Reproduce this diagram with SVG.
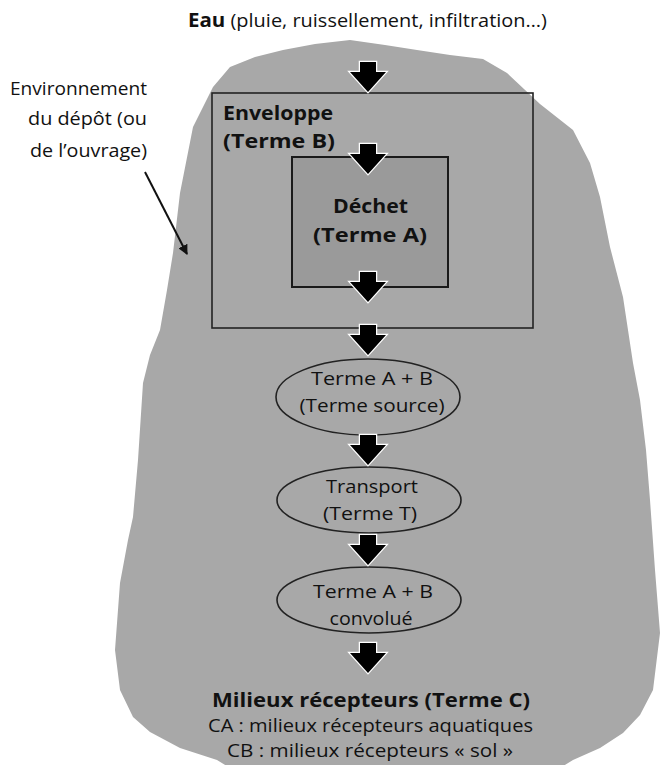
<svg xmlns="http://www.w3.org/2000/svg" width="670" height="765" viewBox="0 0 670 765">
<style>
text{font-family:"Open Sans",Lato,"Liberation Sans",sans-serif;font-size:19px;fill:#111}
.b{font-weight:bold;font-size:19.5px}
.c{text-anchor:middle}
.r{text-anchor:end}
.flow{fill:#000;stroke:#fff;stroke-width:2.5;paint-order:stroke;stroke-linejoin:miter}
.node{fill:none;stroke:#222;stroke-width:1.6}
</style>
<defs>
<path id="arr" d="M-8,0 H8 V10 H18 L0,30 L-18,10 H-8 Z"/>
<marker id="ah" viewBox="0 0 10 10" refX="9" refY="5" markerWidth="5" markerHeight="5" orient="auto" markerUnits="strokeWidth"><path d="M0,0 L10,5 L0,10 Z" fill="#111"/></marker>
</defs>
<rect width="670" height="765" fill="#fff"/>
<g id="environnement">
<path d="M230,67 L255,57 L283,50 L315,44 L350,40 L385,45 L417,50 L450,55 L483,59 L507,73 L540,104 L573,130 L590,163 L600,197 L610,247 L623,297 L633,363 L640,400 L646,450 L650,500 L655,570 L660,633 L653,690 L640,715 L623,733 L600,748 L573,760 L560,768 L230,768 L217,760 L180,748 L150,732 L133,717 L120,690 L115,650 L120,583 L128,540 L133,517 L138,460 L143,383 L150,355 L160,330 L167,290 L173,253 L180,193 L193,127 L213,87 Z" fill="#a8a8a8"/>
</g>
<g id="enveloppe">
<rect x="212" y="93" width="321" height="235" class="node"/>
<text x="223" y="120" class="b" textLength="110" lengthAdjust="spacingAndGlyphs">Enveloppe</text>
<text x="223" y="148" class="b" textLength="112" lengthAdjust="spacingAndGlyphs">(Terme B)</text>
</g>
<g id="dechet">
<rect x="292" y="157" width="156" height="130" fill="#9a9a9a" stroke="#1a1a1a" stroke-width="2"/>
<text x="370.5" y="213" class="b c" fill="#222" textLength="75" lengthAdjust="spacingAndGlyphs">Déchet</text>
<text x="370" y="242" class="b c" fill="#222" textLength="114" lengthAdjust="spacingAndGlyphs">(Terme A)</text>
</g>
<g id="terme-source">
<ellipse cx="368" cy="397" rx="92" ry="38" class="node"/>
<text x="372" y="385" class="c" textLength="122" lengthAdjust="spacingAndGlyphs">Terme A + B</text>
<text x="372" y="412" class="c" textLength="145" lengthAdjust="spacingAndGlyphs">(Terme source)</text>
</g>
<g id="transport">
<ellipse cx="369" cy="500" rx="92" ry="33" class="node"/>
<text x="372" y="493" class="c" textLength="92" lengthAdjust="spacingAndGlyphs">Transport</text>
<text x="370" y="520" class="c" textLength="94" lengthAdjust="spacingAndGlyphs">(Terme T)</text>
</g>
<g id="convolue">
<ellipse cx="369" cy="600" rx="92" ry="33" class="node"/>
<text x="373" y="598" class="c" textLength="120" lengthAdjust="spacingAndGlyphs">Terme A + B</text>
<text x="371" y="625" class="c" textLength="83" lengthAdjust="spacingAndGlyphs">convolué</text>
</g>
<g id="eau">
<text x="188" y="27" textLength="359" lengthAdjust="spacingAndGlyphs"><tspan class="b">Eau</tspan> (pluie, ruissellement, infiltration…)</text>
</g>
<g id="milieux">
<text x="371" y="707" class="b c" textLength="318" lengthAdjust="spacingAndGlyphs">Milieux récepteurs (Terme C)</text>
<text x="370.5" y="732" class="c" textLength="325" lengthAdjust="spacingAndGlyphs">CA : milieux récepteurs aquatiques</text>
<text x="370" y="757" class="c" textLength="286" lengthAdjust="spacingAndGlyphs">CB : milieux récepteurs « sol »</text>
</g>
<g id="label-environnement">
<text x="147" y="95" class="r" textLength="137" lengthAdjust="spacingAndGlyphs">Environnement</text>
<text x="147" y="125" class="r" textLength="119" lengthAdjust="spacingAndGlyphs">du dépôt (ou</text>
<text x="147" y="157" class="r" textLength="117" lengthAdjust="spacingAndGlyphs">de l’ouvrage)</text>
</g>
<g id="connectors">
<use href="#arr" x="368" y="62" class="flow"/>
<use href="#arr" x="368" y="144" class="flow"/>
<use href="#arr" x="368" y="272" class="flow"/>
<use href="#arr" x="368" y="325" class="flow"/>
<use href="#arr" x="368" y="435" class="flow"/>
<use href="#arr" x="368" y="535" class="flow"/>
<use href="#arr" x="368" y="643" class="flow"/>
<line x1="145" y1="172" x2="187" y2="254" stroke="#111" stroke-width="2" marker-end="url(#ah)"/>
</g>
</svg>
